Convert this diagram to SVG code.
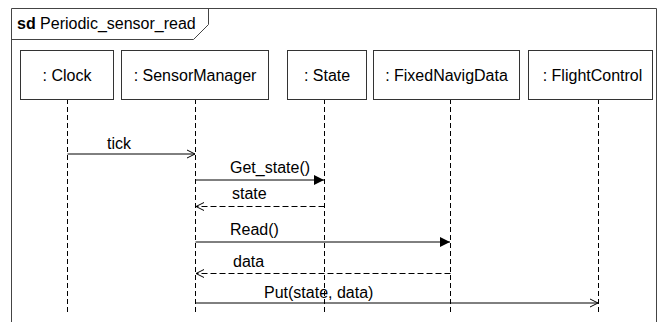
<svg xmlns="http://www.w3.org/2000/svg" width="662" height="322" viewBox="0 0 662 322">
<defs>
<style>
text{font-family:"Liberation Sans",Arial,sans-serif;font-size:16px;fill:#000}
.box{fill:#fff;stroke:#333;stroke-width:1}
.life{stroke:#000;stroke-width:1;stroke-dasharray:5,3;fill:none}
.msg{stroke:#000;stroke-width:1;fill:none}
.ret{stroke:#000;stroke-width:1;stroke-dasharray:6,3;fill:none}
.frame{fill:none;stroke:#444;stroke-width:1}
</style>
<marker id="filled" viewBox="0 0 10 10" refX="10" refY="5" markerWidth="10" markerHeight="10" markerUnits="userSpaceOnUse" orient="auto">
<path d="M0,0 L10,5 L0,10 Z" fill="#000"/>
</marker>
<marker id="open" viewBox="0 0 10 10" refX="10" refY="5" markerWidth="10" markerHeight="10" markerUnits="userSpaceOnUse" orient="auto">
<path d="M2,1 L10,5 L2,9" fill="none" stroke="#000" stroke-width="1"/>
</marker>
</defs>
<rect width="662" height="322" fill="#fff"/>
<g id="frame">
<path class="frame" d="M11.5,330 L11.5,8.5 L656.5,8.5 L656.5,330"/>
<path class="frame" d="M11.5,39.5 L193.5,39.5 L208.5,24.5 L208.5,8.5"/>
<text x="17" y="29"><tspan font-weight="bold">sd</tspan> Periodic_sensor_read</text>
</g>
<g id="lifelines">
<line class="life" x1="67.5" y1="99" x2="67.5" y2="315"/>
<line class="life" x1="195.5" y1="99" x2="195.5" y2="315"/>
<line class="life" x1="324.5" y1="99" x2="324.5" y2="315"/>
<line class="life" x1="450.5" y1="99" x2="450.5" y2="315"/>
<line class="life" x1="598.5" y1="99" x2="598.5" y2="315"/>
</g>
<g id="clock">
<rect class="box" x="20.5" y="50.5" width="93" height="49"/>
<text x="67" y="81" text-anchor="middle">: Clock</text>
</g>
<g id="sensormanager">
<rect class="box" x="121.5" y="50.5" width="147" height="49"/>
<text x="195" y="81" text-anchor="middle">: SensorManager</text>
</g>
<g id="state">
<rect class="box" x="287.5" y="50.5" width="79" height="49"/>
<text x="327" y="81" text-anchor="middle">: State</text>
</g>
<g id="fixednavigdata">
<rect class="box" x="373.5" y="50.5" width="146" height="49"/>
<text x="446.5" y="81" text-anchor="middle">: FixedNavigData</text>
</g>
<g id="flightcontrol">
<rect class="box" x="528.5" y="50.5" width="124" height="49"/>
<text x="592.5" y="81" text-anchor="middle">: FlightControl</text>
</g>
<g id="connectors">
<line class="msg" x1="67.5" y1="154" x2="195" y2="154" marker-end="url(#open)"/>
<text x="107" y="149">tick</text>
<line class="msg" x1="195.5" y1="180" x2="324" y2="180" marker-end="url(#filled)"/>
<text x="230" y="173">Get_state()</text>
<line class="ret" x1="324.5" y1="206.5" x2="196" y2="206.5" marker-end="url(#open)"/>
<text x="232" y="199">state</text>
<line class="msg" x1="195.5" y1="242" x2="450" y2="242" marker-end="url(#filled)"/>
<text x="230" y="235">Read()</text>
<line class="ret" x1="450.5" y1="273.5" x2="196" y2="273.5" marker-end="url(#open)"/>
<text x="233" y="267">data</text>
<line class="msg" x1="195.5" y1="303" x2="598" y2="303" marker-end="url(#open)"/>
<text x="264" y="298">Put(state, data)</text>
</g>
</svg>
